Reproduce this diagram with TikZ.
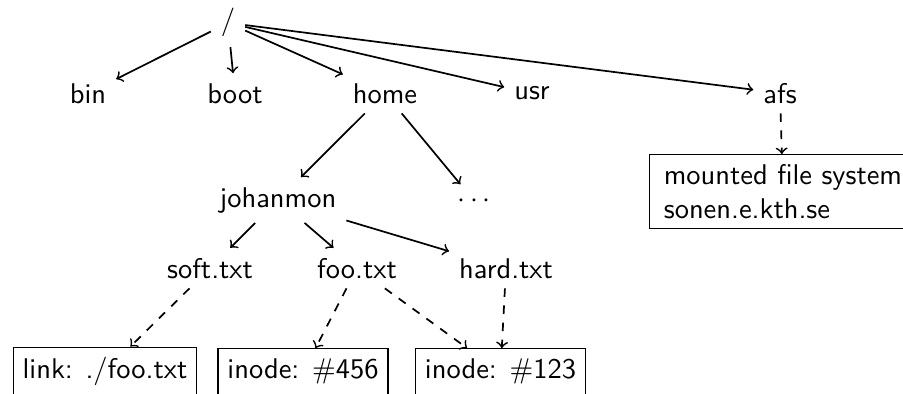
\documentclass[tikz,border=0pt]{standalone}
\usepackage{tikz}
\usetikzlibrary{arrows,positioning}

\begin{document}
\begin{tikzpicture}[x=0.3509pt, y=-0.3509pt, font=\sffamily, arrow/.style = {semithick,->}, ref/.style = {semithick,dashed,->}]
		\tikzset{dir/.style={anchor=base}}
		\tikzset{box/.style={draw,rectangle,thin,anchor=base,text depth=3pt}}

		\useasboundingbox (0,0) rectangle (903,393);

		% root
		\node[dir] (root) at (228,30) {/};

		% first level
		\node[dir] (bin) at (88,103) {bin};
		\node[dir] (boot) at (235,103) {boot};
		\node[dir] (home) at (385,103) {home};
		\node[dir] (usr) at (532,100) {usr};
		\node[dir] (afs) at (780,103) {afs};

		% home
		\node[dir] (johanmon) at (278,207) {johanmon};
		\node[dir] (more) at (474,207) {$\cdots$};

		% files
		\node[dir] (soft) at (210,278) {soft.txt};
		\node[dir] (foo) at (357,278) {foo.txt};
		\node[dir] (hard) at (506,278) {hard.txt};

		% what the files point to
		\node[box] (link) at (105,378) {link: ./foo.txt};
		\node[box] (inode456) at (303,378) {inode: $\#$456};
		\node[box] (inode123) at (500.5,378) {inode: $\#$123};

		\node[draw, thin, align=left, anchor=north west, inner xsep=5pt] (mount) at (649,154) {mounted file system\\sonen.e.kth.se};

		% Arrows
		\draw [arrow] (root) -- (bin);
		\draw [arrow] (root) -- (boot);
		\draw [arrow] (root) -- (home);
		\draw [arrow] (root) -- (usr);
		\draw [arrow] (root) -- (afs);
		\draw [arrow] (home) -- (johanmon);
		\draw [arrow] (home) -- (more);
		\draw [arrow] (johanmon) -- (soft);
		\draw [arrow] (johanmon) -- (foo);
		\draw [arrow] (johanmon) -- (hard);

		\draw [ref] (afs) -- (mount);
		\draw [ref] (soft) -- (link);
		\draw [ref] (foo) -- (inode456);
		\draw [ref] (foo) -- (inode123);
		\draw [ref] (hard) -- (inode123);

	\end{tikzpicture}
\end{document}
